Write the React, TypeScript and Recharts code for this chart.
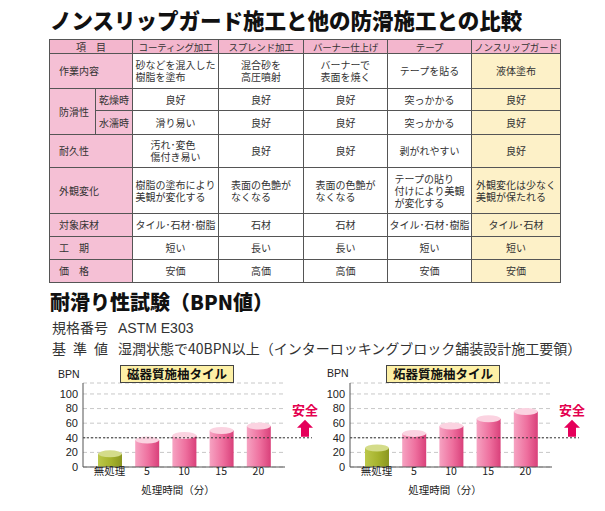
import React from 'react'
import { Bar, BarChart, CartesianGrid, ReferenceLine, XAxis, YAxis } from 'recharts'

// table
const methods = ['コーティング加工', 'スプレンド加工', 'バーナー仕上げ', 'テープ', 'ノンスリップガード']
const workRow = ['砂などを混入した\n樹脂を塗布', '混合砂を\n高圧噴射', 'バーナーで\n表面を焼く', 'テープを貼る', '液体塗布']
const dryRow = ['良好', '良好', '良好', '突っかかる', '良好']
const wetRow = ['滑り易い', '良好', '良好', '突っかかる', '良好']
const durabilityRow = ['汚れ･変色\n傷付き易い', '良好', '良好', '剥がれやすい', '良好']
const appearanceRow = ['樹脂の塗布により\n美観が変化する', '表面の色艶が\nなくなる', '表面の色艶が\nなくなる', 'テープの貼り\n付けにより美観\nが変化する', '外観変化は少なく\n美観が保たれる']
const floorRow = ['タイル･石材･樹脂', '石材', '石材', 'タイル･石材･樹脂', 'タイル･石材']
const periodRow = ['短い', '長い', '長い', '短い', '短い']
const priceRow = ['安価', '高価', '高価', '安価', '安価']

// BPN charts
const treatments = ['無処理', '5', '10', '15', '20']
const porcelainBpn = [18, 37, 43, 50, 56]
const stonewareBpn = [26, 46, 56, 66, 76]
const bpnTicks = [0, 20, 40, 60, 80, 100]
const safeLevel = 40

const JP = '"Noto Sans CJK JP", "Noto Sans", sans-serif'
const BORDER = '1px solid #555'
const PINK = '#f5c0d5'
const PINK_HEAD = '#f3b6cd'
const YELLOW = '#fdf1c8'

function CellText({ text }: { text: string }) {
  return (
    <span style={{ display: 'inline-block', textAlign: 'left', whiteSpace: 'pre-line' }}>{text}</span>
  )
}

function ValueCells({ row }: { row: string[] }) {
  return (
    <>
      {row.map((v, i) => (
        <td
          key={i}
          style={{ border: BORDER, textAlign: 'center', padding: 0, background: i === 4 ? YELLOW : '#fff' }}
        >
          <CellText text={v} />
        </td>
      ))}
    </>
  )
}

function ItemCell({ label, colSpan = 2, rowSpan = 1 }: { label: string; colSpan?: number; rowSpan?: number }) {
  return (
    <td colSpan={colSpan} rowSpan={rowSpan} style={{ border: BORDER, background: PINK, paddingLeft: 9 }}>
      {label}
    </td>
  )
}

function Cylinder(props: any) {
  const { x, y, width, height, payload, prefix } = props
  if (!height || height <= 0) return null
  const green = payload?.name === treatments[0]
  const grad = green ? `${prefix}-g` : `${prefix}-p`
  return (
    <g>
      <rect x={x} y={y} width={width} height={height} fill={`url(#${grad})`} />
      <ellipse cx={x + width / 2} cy={y} rx={width / 2} ry={3.5} fill={green ? '#d4dc8a' : '#fbd3e1'} />
    </g>
  )
}

function SafeLine(props: any) {
  const { x1, y1, x2 } = props
  const ax = x2 + 20
  return (
    <g>
      <line x1={x1} y1={y1} x2={x2 + 27} y2={y1} stroke="#333" strokeDasharray="2 2" />
      <text x={ax} y={y1 - 23} textAnchor="middle" fill="#e4004f" fontWeight={700} fontSize={13} fontFamily={JP}>
        安全
      </text>
      <path
        d={`M${ax},${y1 - 18} L${ax + 8},${y1 - 10} L${ax + 4},${y1 - 10} L${ax + 4},${y1 - 1} L${ax - 4},${y1 - 1} L${ax - 4},${y1 - 10} L${ax - 8},${y1 - 10} Z`}
        fill="#e5005a"
      />
    </g>
  )
}

function BpnChart({ values, prefix }: { values: number[]; prefix: string }) {
  const data = treatments.map((name, i) => ({ name, bpn: values[i] }))
  return (
    <BarChart width={330} height={150} data={data} margin={{ top: 23, right: 45, left: 53, bottom: 16 }}>
      <defs>
        <linearGradient id={`${prefix}-p`} x1="0" y1="0" x2="1" y2="0">
          <stop offset="0%" stopColor="#f6a3c2" />
          <stop offset="55%" stopColor="#ee6f9e" />
          <stop offset="100%" stopColor="#d9407a" />
        </linearGradient>
        <linearGradient id={`${prefix}-g`} x1="0" y1="0" x2="1" y2="0">
          <stop offset="0%" stopColor="#bcc84a" />
          <stop offset="55%" stopColor="#a5b22c" />
          <stop offset="100%" stopColor="#8a9620" />
        </linearGradient>
      </defs>
      <CartesianGrid vertical={false} stroke="#c8c8c8" strokeDasharray="4 3" />
      <XAxis
        dataKey="name"
        interval={0}
        height={27}
        tickLine={false}
        tickSize={0}
        tickMargin={1}
        padding={{ left: 8, right: 8 }}
        axisLine={{ stroke: '#555' }}
        tick={{ fill: '#222', fontSize: 10.5, fontFamily: JP }}
        label={{ value: '処理時間（分）', position: 'insideBottom', offset: 0, fill: '#222', fontSize: 10.5, fontFamily: JP, dx: -6 }}
      />
      <YAxis
        width={30}
        domain={[0, 115]}
        ticks={bpnTicks}
        interval={0}
        tickLine={false}
        tickSize={3}
        tickMargin={2}
        axisLine={{ stroke: '#555' }}
        tick={{ fill: '#222', fontSize: 11, fontFamily: 'Liberation Sans, sans-serif' }}
      />
      <ReferenceLine y={safeLevel} shape={(p: any) => <SafeLine {...p} />} />
      <Bar dataKey="bpn" barSize={24} isAnimationActive={false} shape={(p: any) => <Cylinder {...p} prefix={prefix} />} />
    </BarChart>
  )
}

function ChartTitle({ left, text }: { left: number; text: string }) {
  return (
    <div
      style={{
        position: 'absolute',
        left,
        top: 365,
        width: 112,
        height: 16,
        border: '1px solid #444',
        background: '#fdf0a6',
        fontFamily: JP,
        fontWeight: 700,
        fontSize: 12.5,
        lineHeight: '16px',
        textAlign: 'center',
        color: '#111',
      }}
    >
      {text}
    </div>
  )
}

export default function App() {
  return (
    <div style={{ position: 'absolute', left: 0, top: 0, width: 605, height: 511, background: '#fff', fontFamily: JP, color: '#333' }}>
      <div style={{ position: 'absolute', left: 50, top: 6, fontSize: 21.5, fontWeight: 900, color: '#111', lineHeight: '28px', whiteSpace: 'nowrap' }}>
        ノンスリップガード施工と他の防滑施工との比較
      </div>

      <table
        style={{
          position: 'absolute',
          left: 49,
          top: 39,
          width: 511,
          borderCollapse: 'collapse',
          tableLayout: 'fixed',
          fontSize: 10,
          lineHeight: '12px',
          color: '#333',
        }}
      >
        <colgroup>
          <col style={{ width: 46 }} />
          <col style={{ width: 37 }} />
          <col style={{ width: 86 }} />
          <col style={{ width: 85 }} />
          <col style={{ width: 84 }} />
          <col style={{ width: 84 }} />
          <col style={{ width: 89 }} />
        </colgroup>
        <tbody>
          <tr style={{ height: 14 }}>
            <td colSpan={2} style={{ border: BORDER, background: PINK_HEAD, textAlign: 'center', padding: 0 }}>
              項　目
            </td>
            {methods.map((m) => (
              <td
                key={m}
                style={{ border: BORDER, background: PINK_HEAD, textAlign: 'center', padding: 0, whiteSpace: 'nowrap', fontSize: 9.5, letterSpacing: -0.2 }}
              >
                {m}
              </td>
            ))}
          </tr>
          <tr style={{ height: 35 }}>
            <ItemCell label="作業内容" />
            <ValueCells row={workRow} />
          </tr>
          <tr style={{ height: 22 }}>
            <ItemCell label="防滑性" colSpan={1} rowSpan={2} />
            <td style={{ border: BORDER, background: PINK, textAlign: 'center', padding: 0 }}>乾燥時</td>
            <ValueCells row={dryRow} />
          </tr>
          <tr style={{ height: 24 }}>
            <td style={{ border: BORDER, background: PINK, textAlign: 'center', padding: 0 }}>水濡時</td>
            <ValueCells row={wetRow} />
          </tr>
          <tr style={{ height: 33 }}>
            <ItemCell label="耐久性" />
            <ValueCells row={durabilityRow} />
          </tr>
          <tr style={{ height: 46 }}>
            <ItemCell label="外観変化" />
            <ValueCells row={appearanceRow} />
          </tr>
          <tr style={{ height: 23 }}>
            <ItemCell label="対象床材" />
            <ValueCells row={floorRow} />
          </tr>
          <tr style={{ height: 23 }}>
            <ItemCell label="工　期" />
            <ValueCells row={periodRow} />
          </tr>
          <tr style={{ height: 23 }}>
            <ItemCell label="価　格" />
            <ValueCells row={priceRow} />
          </tr>
        </tbody>
      </table>

      <div style={{ position: 'absolute', left: 50, top: 289, fontSize: 20, fontWeight: 900, color: '#111', lineHeight: '26px', whiteSpace: 'nowrap' }}>
        耐滑り性試験（BPN値）
      </div>
      <div style={{ position: 'absolute', left: 52, top: 320, fontSize: 14, lineHeight: '15px', color: '#333', whiteSpace: 'nowrap' }}>
        <span style={{ display: 'inline-block', width: 66 }}>規格番号</span>
        <span style={{ fontFamily: 'Liberation Sans, sans-serif' }}>ASTM E303</span>
      </div>
      <div style={{ position: 'absolute', left: 52, top: 341, fontSize: 14, lineHeight: '15px', color: '#333', whiteSpace: 'nowrap' }}>
        <span style={{ display: 'inline-block', width: 56, textAlignLast: 'justify', marginRight: 10 }}>基準値</span>
        湿潤状態で40BPN以上（インターロッキングブロック舗装設計施工要領）
      </div>

      <div style={{ position: 'absolute', left: 0, top: 360 }}>
        <BpnChart values={porcelainBpn} prefix="c1" />
      </div>
      <div style={{ position: 'absolute', left: 267, top: 360 }}>
        <BpnChart values={stonewareBpn} prefix="c2" />
      </div>
      <ChartTitle left={120} text="磁器質施柚タイル" />
      <ChartTitle left={386} text="炻器質施柚タイル" />
      <div style={{ position: 'absolute', left: 58, top: 368, fontSize: 10.5, fontFamily: 'Liberation Sans, sans-serif', color: '#222' }}>BPN</div>
      <div style={{ position: 'absolute', left: 327, top: 367, fontSize: 10.5, fontFamily: 'Liberation Sans, sans-serif', color: '#222' }}>BPN</div>
    </div>
  )
}
